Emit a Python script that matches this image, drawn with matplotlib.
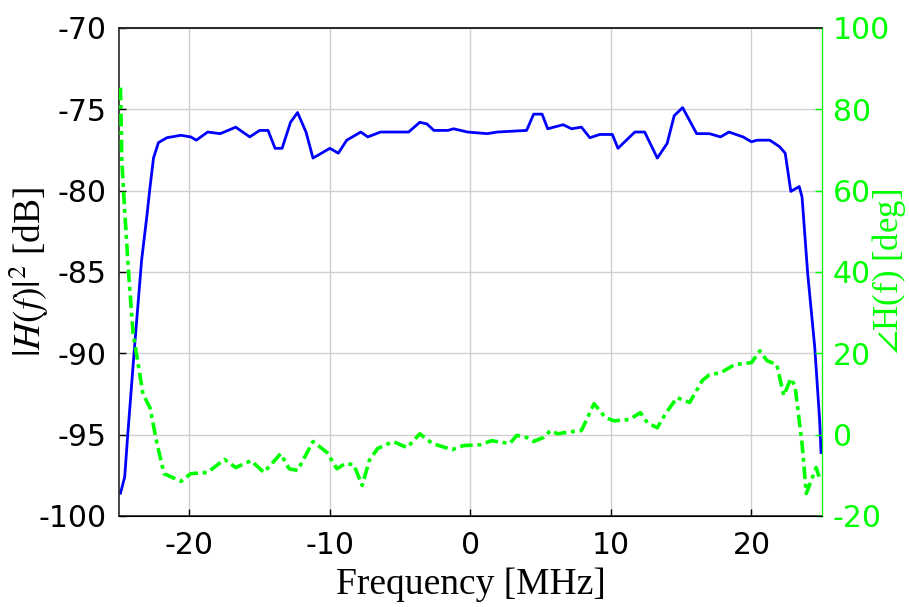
import numpy as np
import matplotlib
matplotlib.use("Agg")
import matplotlib.pyplot as plt

# Magnitude response |H(f)|^2 in dB
freq_mag = [-24.9, -24.6, -24.4, -23.9, -23.4, -23.0, -22.8, -22.55, -22.2, -21.6,
            -20.6, -19.9, -19.5, -18.7, -17.8, -16.7, -15.7, -15.0, -14.4, -13.9,
            -13.4, -12.8, -12.3, -11.7, -11.2, -10.0, -9.4, -8.8, -7.8, -7.3,
            -6.4, -4.4, -3.6, -3.1, -2.6, -1.6, -1.2, -0.2, 1.2, 1.9,
            4.0, 4.5, 5.1, 5.5, 6.6, 7.2, 7.9, 8.5, 9.2, 10.1,
            10.5, 11.7, 12.4, 13.3, 14.0, 14.5, 15.1, 15.6, 16.1, 17.0,
            17.8, 18.4, 19.4, 20.0, 20.4, 21.3, 22.0, 22.4, 22.8, 23.4,
            23.6, 24.0, 24.5, 24.85, 24.95]
mag_db = [-98.6, -97.6, -95.2, -89.6, -84.3, -81.4, -79.8, -78.0, -77.05, -76.75,
          -76.6, -76.7, -76.9, -76.4, -76.5, -76.1, -76.7, -76.3, -76.3, -77.4,
          -77.4, -75.8, -75.2, -76.4, -78.0, -77.4, -77.7, -76.9, -76.4, -76.7,
          -76.4, -76.4, -75.8, -75.9, -76.3, -76.3, -76.2, -76.4, -76.5, -76.4,
          -76.3, -75.3, -75.3, -76.2, -75.95, -76.2, -76.1, -76.75, -76.55, -76.55,
          -77.4, -76.4, -76.4, -78.0, -77.1, -75.4, -74.9, -75.7, -76.5, -76.5,
          -76.7, -76.4, -76.7, -77.0, -76.9, -76.9, -77.3, -77.7, -80.05, -79.75,
          -80.4, -85.1, -89.6, -94.1, -96.1]

# Phase response angle H(f) in degrees
freq_ph = [-24.9, -24.8, -24.6, -24.3, -24.0, -23.6, -23.3, -22.8, -22.3, -21.8,
           -20.6, -19.9, -18.7, -17.5, -16.7, -15.6, -14.7, -13.5, -12.9, -12.3,
           -11.2, -10.2, -9.5, -8.9, -8.3, -7.7, -7.2, -6.6, -5.5, -4.5,
           -3.6, -2.7, -1.3, -0.5, 0.7, 1.5, 2.8, 3.3, 4.0, 4.5,
           5.2, 5.7, 6.2, 7.1, 7.9, 8.8, 9.6, 10.2, 11.3, 12.1,
           12.6, 13.3, 13.9, 14.7, 15.6, 16.5, 17.0, 17.8, 18.8, 20.0,
           20.6, 21.1, 21.8, 22.3, 22.8, 23.1, 23.6, 23.9, 24.6, 24.9]
phase_deg = [85.3, 67.0, 55.0, 38.6, 24.8, 16.5, 10.0, 6.6, -2.2, -9.6,
             -11.5, -9.6, -9.3, -6.1, -8.1, -6.4, -9.3, -4.7, -8.4, -8.8,
             -1.7, -4.4, -8.4, -7.1, -7.4, -12.5, -6.4, -3.4, -1.7, -3.2,
             0.2, -2.2, -3.7, -2.7, -2.5, -1.5, -2.2, -0.2, -0.7, -1.7,
             -0.7, 1.0, 0.2, 0.7, 1.0, 7.6, 4.2, 3.4, 3.7, 5.4,
             2.9, 1.7, 5.2, 9.1, 7.9, 13.3, 14.7, 15.2, 17.2, 17.7,
             20.6, 18.2, 17.2, 9.6, 13.8, 12.0, -2.2, -14.5, -8.1, -11.3]

x_ticks = [-20, -10, 0, 10, 20]
mag_ticks = [-100, -95, -90, -85, -80, -75, -70]
phase_ticks = [-20, 0, 20, 40, 60, 80, 100]

green = (0.0, 1.0, 0.0)
plt.rcParams['mathtext.fontset'] = 'stix'
plt.rcParams['axes.unicode_minus'] = False

fig = plt.figure(figsize=(9.09, 6.07), dpi=100)
ax = fig.add_axes([0.131, 0.150, 0.773, 0.804])
ax2 = ax.twinx()

ax.plot(freq_mag, mag_db, color='blue', lw=2)
ax2.plot(freq_ph, phase_deg, color=green, lw=2.6, linestyle=(0, (3.5, 1.3, 1.1, 1.3)))

ax.set_xlim(-25, 25)
ax.set_ylim(-100, -70)
ax2.set_ylim(-20, 100)
ax.set_xticks(x_ticks)
ax.set_yticks(mag_ticks)
ax2.set_yticks(phase_ticks)

ax.grid(True, color='#d0d0d0', lw=1)
ax.tick_params(axis='y', direction='in', labelsize=21.5, length=5, width=1, pad=9)
ax.tick_params(axis='x', direction='in', labelsize=21.5, length=5, width=1, pad=11)
ax2.tick_params(direction='in', labelsize=21.5, length=5, width=1, pad=8,
                colors=green)
ax2.spines['right'].set_color(green)
ax2.spines['left'].set_visible(False)
for sp in ['left', 'top', 'bottom']:
    ax.spines[sp].set_color('#262626')
    ax.spines[sp].set_linewidth(1.2)
ax2.spines['top'].set_color('#262626')
ax2.spines['top'].set_linewidth(1.2)

ax.set_xlabel('Frequency [MHz]', fontsize=27, family='Liberation Serif', labelpad=5)
ax.set_ylabel(r'$|H(f)|^2$ [dB]', fontsize=27, family='Liberation Serif')
ax2.set_ylabel(r'$\angle$H(f) [deg]', fontsize=25, family='Liberation Serif',
               color=green)
# pin the rotated labels so they stay inside the figure
ax.yaxis.set_label_coords(-0.097, 0.5)
ax2.yaxis.set_label_coords(1.068, 0.5)

fig.savefig('out.png', dpi=100)
